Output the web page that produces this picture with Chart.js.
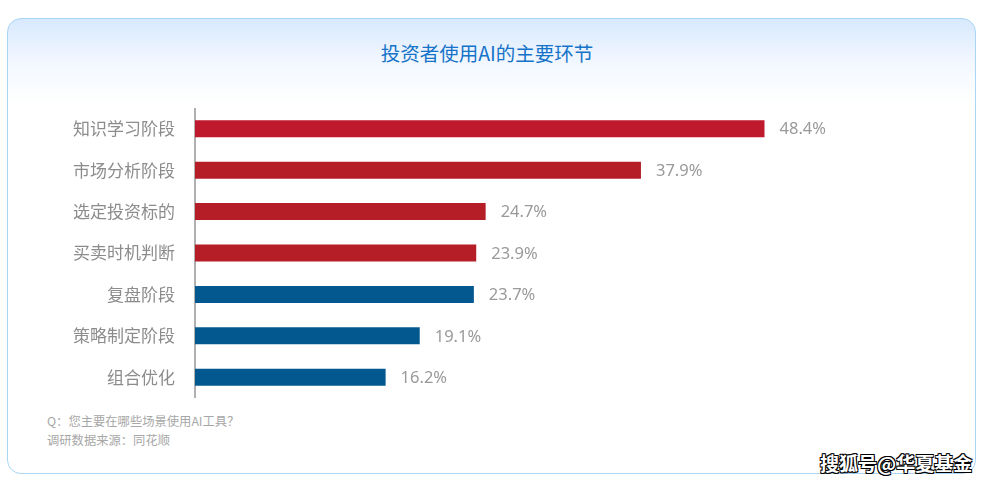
<!DOCTYPE html>
<html>
<head>
<meta charset="utf-8">
<script src="https://cdn.jsdelivr.net/npm/chart.js@4"></script>
<style>
  html, body { margin: 0; padding: 0; background: #fff; }
  body { width: 996px; height: 485px; position: relative; overflow: hidden; font-family: "Noto Sans CJK SC", "Noto Sans", sans-serif; }
  .card {
    position: absolute; left: 7px; top: 18px; width: 969px; height: 456px;
    border: 1px solid #a9d5f7; border-radius: 14px; box-sizing: border-box;
    background: linear-gradient(to bottom, #d8e9fd 0px, #f3f8ff 45px, #ffffff 85px);
  }
  .title {
    position: absolute; left: 0; width: 974px; top: 39px; text-align: center;
    font-size: 19.5px; color: #1573c9; line-height: 28px;
  }
  #barChart { position: absolute; left: 0; top: 108px; }
  .note { position: absolute; left: 47px; font-size: 12.3px; color: #a7a7a7; line-height: 16px; }
  .mark {
    position: absolute; left: 820px; top: 449px; font-size: 19px; font-weight: bold; color: #fff;
    text-shadow: -1px -1px 0 #000, 1px -1px 0 #000, -1px 1px 0 #000, 1px 1px 0 #000, 0 1px 0 #000, 0 -1px 0 #000;
  }
</style>
</head>
<body>
<div class="card"></div>
<div class="title">投资者使用AI的主要环节</div>
<canvas id="barChart" width="996" height="290"></canvas>
<div class="note" style="top: 413px;">Q：您主要在哪些场景使用AI工具？</div>
<div class="note" style="top: 432px;">调研数据来源：同花顺</div>
<div class="mark">搜狐号@华夏基金</div>
<script>
// Data
const categories = ["知识学习阶段", "市场分析阶段", "选定投资标的", "买卖时机判断", "复盘阶段", "策略制定阶段", "组合优化"]
const shares = [48.4, 37.9, 24.7, 23.9, 23.7, 19.1, 16.2]
const barColors = ["#be192c", "#b51e27", "#b51e27", "#b51e27", "#03598f", "#03598f", "#03598f"]

const Chart = window.Chart

// value labels at bar ends
const valueLabels = {
  id: "valueLabels",
  afterDatasetsDraw(chart) {
    const ctx = chart.ctx
    const meta = chart.getDatasetMeta(0)
    ctx.save()
    ctx.font = '16.5px "Noto Sans", sans-serif'
    ctx.fillStyle = "#9a9a9a"
    ctx.textAlign = "left"
    ctx.textBaseline = "middle"
    meta.data.forEach((bar, i) => {
      ctx.fillText(shares[i].toFixed(1) + "%", bar.x + 15, bar.y + 1)
    })
    ctx.restore()
  },
}

new Chart(document.getElementById("barChart"), {
  type: "bar",
  data: {
    labels: categories,
    datasets: [
      {
        data: shares,
        backgroundColor: barColors,
        barPercentage: 0.41,
        categoryPercentage: 1,
      },
    ],
  },
  options: {
    indexAxis: "y",
    responsive: false,
    animation: false,
    layout: { padding: { left: 0, right: 95, top: 0, bottom: 0 } },
    plugins: { legend: { display: false }, tooltip: { enabled: false } },
    scales: {
      x: { display: false, min: 0, max: 60 },
      y: {
        // fixed axis width, no extra label padding above/below
        afterFit: (scale) => {
          scale.width = 195
          scale.paddingTop = 0
          scale.paddingBottom = 0
        },
        grid: { display: false, drawTicks: false },
        border: { display: true, color: "#b0b0b0", width: 2 },
        ticks: {
          color: "#8c8c8c",
          padding: 20,
          font: { size: 17, family: '"Noto Sans CJK SC", sans-serif' },
        },
      },
    },
  },
  plugins: [valueLabels],
})
</script>
</body>
</html>
